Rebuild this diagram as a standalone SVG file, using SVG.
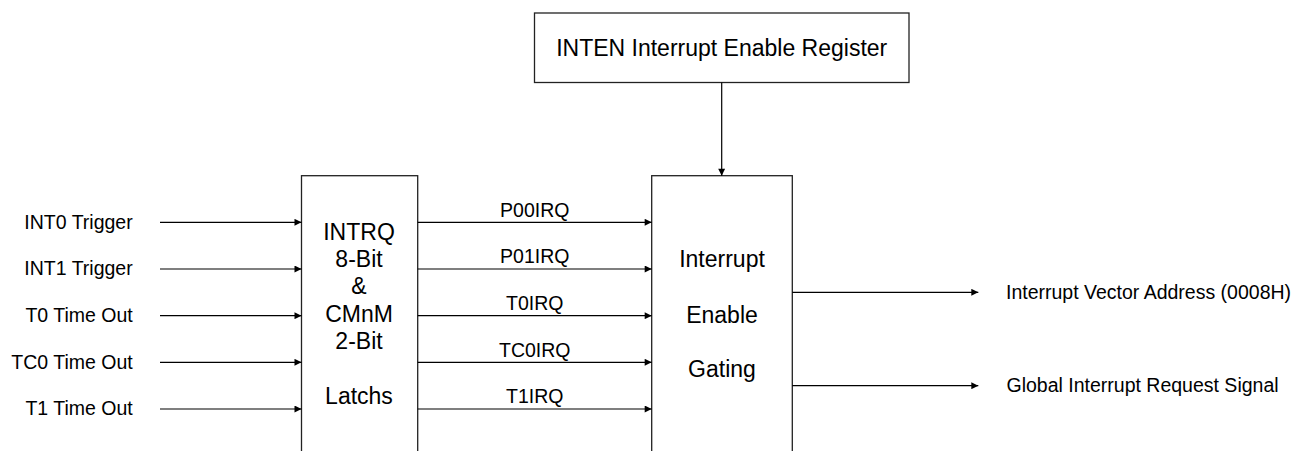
<svg xmlns="http://www.w3.org/2000/svg" width="1311" height="451" viewBox="0 0 1311 451">
<defs>
<marker id="ah" viewBox="0 0 10 10" refX="10" refY="5" markerWidth="9" markerHeight="7" markerUnits="userSpaceOnUse" orient="auto">
<path d="M0,0 L10,5 L0,10 z" fill="#000"/>
</marker>
<style>
.box{fill:#fff;stroke:#222;stroke-width:1.3}
.ln{stroke:#000;stroke-width:1.2;fill:none;marker-end:url(#ah)}
.lbl{font-family:"Liberation Sans",Arial,sans-serif;font-size:19.5px;fill:#000}
.big{font-family:"Liberation Sans",Arial,sans-serif;font-size:23px;fill:#000;text-anchor:middle}
.r{text-anchor:end}
.m{text-anchor:middle}
</style>
</defs>
<rect width="1311" height="451" fill="#fff"/>

<g id="inten">
<rect class="box" x="534.5" y="13" width="374.5" height="69.5"/>
<text class="big" x="721.7" y="55.5">INTEN Interrupt Enable Register</text>
</g>

<g id="latch">
<rect class="box" x="301.5" y="175.7" width="116.2" height="290"/>
<text class="big" x="359" y="240">INTRQ</text>
<text class="big" x="359" y="267">8-Bit</text>
<text class="big" x="359" y="294">&amp;</text>
<text class="big" x="359" y="322">CMnM</text>
<text class="big" x="359" y="349">2-Bit</text>
<text class="big" x="359" y="404">Latchs</text>
</g>

<g id="gating">
<rect class="box" x="651.7" y="175.7" width="140.6" height="290"/>
<text class="big" x="722" y="266.7">Interrupt</text>
<text class="big" x="722" y="322.7">Enable</text>
<text class="big" x="722" y="377.3">Gating</text>
</g>

<g id="inputs">
<text class="lbl r" x="132.7" y="228.5">INT0 Trigger</text>
<text class="lbl r" x="132.7" y="275.2">INT1 Trigger</text>
<text class="lbl r" x="132.7" y="321.9">T0 Time Out</text>
<text class="lbl r" x="132.7" y="368.5">TC0 Time Out</text>
<text class="lbl r" x="132.7" y="415.2">T1 Time Out</text>
</g>

<g id="outputs">
<text class="lbl" x="1006" y="299">Interrupt Vector Address (0008H)</text>
<text class="lbl" x="1006.5" y="391.7">Global Interrupt Request Signal</text>
</g>

<g id="connectors">
<line class="ln" x1="721.7" y1="82.5" x2="721.7" y2="175.7"/>
<line class="ln" x1="160" y1="222.3" x2="301.5" y2="222.3"/>
<line class="ln" x1="160" y1="269" x2="301.5" y2="269"/>
<line class="ln" x1="160" y1="315.7" x2="301.5" y2="315.7"/>
<line class="ln" x1="160" y1="362.3" x2="301.5" y2="362.3"/>
<line class="ln" x1="160" y1="409" x2="301.5" y2="409"/>
<line class="ln" x1="417.7" y1="222.3" x2="651.7" y2="222.3"/>
<line class="ln" x1="417.7" y1="269" x2="651.7" y2="269"/>
<line class="ln" x1="417.7" y1="315.7" x2="651.7" y2="315.7"/>
<line class="ln" x1="417.7" y1="362.3" x2="651.7" y2="362.3"/>
<line class="ln" x1="417.7" y1="409" x2="651.7" y2="409"/>
<line class="ln" x1="792.3" y1="292.3" x2="978.3" y2="292.3"/>
<line class="ln" x1="792.3" y1="385.7" x2="978.3" y2="385.7"/>
<text class="lbl m" x="534.8" y="216.7">P00IRQ</text>
<text class="lbl m" x="534.8" y="263.4">P01IRQ</text>
<text class="lbl m" x="534.8" y="310.1">T0IRQ</text>
<text class="lbl m" x="534.8" y="356.7">TC0IRQ</text>
<text class="lbl m" x="534.8" y="403.4">T1IRQ</text>
</g>
</svg>
